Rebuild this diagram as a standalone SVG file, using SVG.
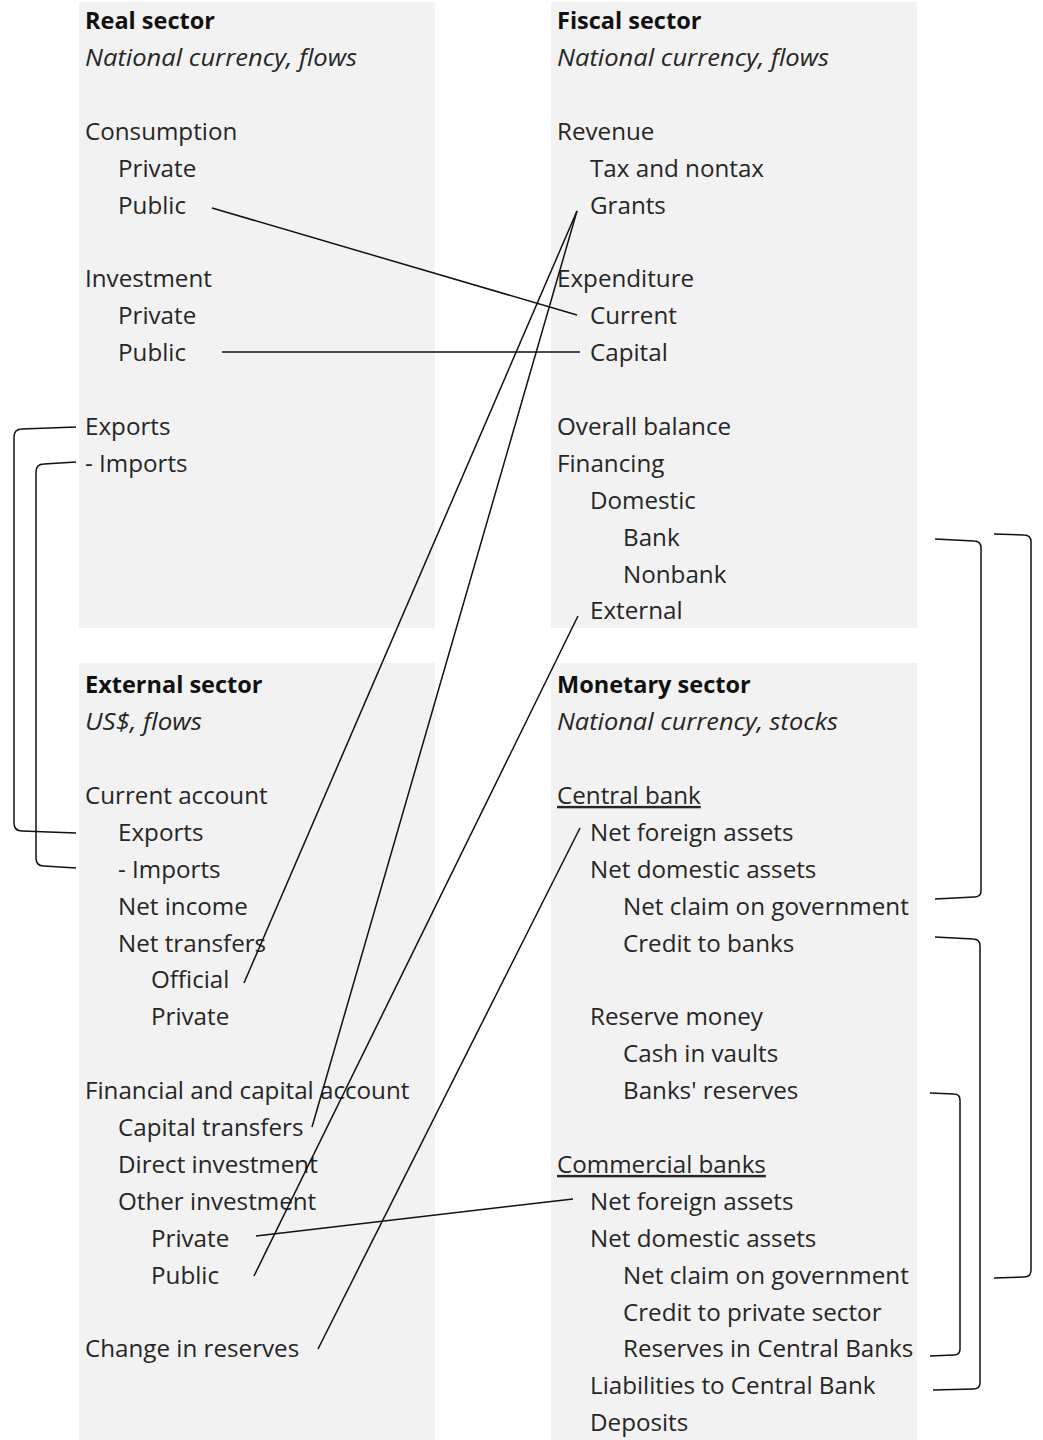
<svg xmlns="http://www.w3.org/2000/svg" width="1043" height="1440" viewBox="0 0 1043 1440">
<style>
.panel{fill:#f2f2f2}
text{font-family:"Open Sans","Noto Sans",sans-serif;font-size:24.2px;fill:#262626}
.b{font-weight:bold;fill:#111;font-size:23.5px}
.i{font-style:italic}
.u{text-decoration:underline}
.c{fill:none;stroke:#111;stroke-width:1.5}
</style>
<rect width="1043" height="1440" fill="#ffffff"/>
<g id="real-sector">
<rect class="panel" x="79" y="2" width="356" height="626"/>
<text class="b" x="85" y="29">Real sector</text>
<text class="i" x="85" y="65.9" textLength="272" lengthAdjust="spacingAndGlyphs">National currency, flows</text>
<text x="85" y="139.7">Consumption</text>
<text x="118" y="176.6">Private</text>
<text x="118" y="213.5">Public</text>
<text x="85" y="287.3">Investment</text>
<text x="118" y="324.2">Private</text>
<text x="118" y="361.1">Public</text>
<text x="85" y="434.9">Exports</text>
<text x="85" y="471.8">- Imports</text>
</g>
<g id="fiscal-sector">
<rect class="panel" x="551" y="2" width="366" height="626"/>
<text class="b" x="557" y="29">Fiscal sector</text>
<text class="i" x="557" y="65.9" textLength="272" lengthAdjust="spacingAndGlyphs">National currency, flows</text>
<text x="557" y="139.7">Revenue</text>
<text x="590" y="176.6">Tax and nontax</text>
<text x="590" y="213.5">Grants</text>
<text x="557" y="287.3">Expenditure</text>
<text x="590" y="324.2">Current</text>
<text x="590" y="361.1">Capital</text>
<text x="557" y="434.9">Overall balance</text>
<text x="557" y="471.8">Financing</text>
<text x="590" y="508.7">Domestic</text>
<text x="623" y="545.6">Bank</text>
<text x="623" y="582.5">Nonbank</text>
<text x="590" y="619.4">External</text>
</g>
<g id="external-sector">
<rect class="panel" x="79" y="663" width="356" height="777"/>
<text class="b" x="85" y="693.2">External sector</text>
<text class="i" x="85" y="730.1" textLength="117" lengthAdjust="spacingAndGlyphs">US$, flows</text>
<text x="85" y="803.9">Current account</text>
<text x="118" y="840.8">Exports</text>
<text x="118" y="877.7">- Imports</text>
<text x="118" y="914.6">Net income</text>
<text x="118" y="951.5">Net transfers</text>
<text x="151" y="988.4">Official</text>
<text x="151" y="1025.3">Private</text>
<text x="85" y="1099.1">Financial and capital account</text>
<text x="118" y="1136">Capital transfers</text>
<text x="118" y="1172.9">Direct investment</text>
<text x="118" y="1209.8">Other investment</text>
<text x="151" y="1246.7">Private</text>
<text x="151" y="1283.6">Public</text>
<text x="85" y="1357.4">Change in reserves</text>
</g>
<g id="monetary-sector">
<rect class="panel" x="551" y="663" width="366" height="777"/>
<text class="b" x="557" y="693.2">Monetary sector</text>
<text class="i" x="557" y="730.1" textLength="281" lengthAdjust="spacingAndGlyphs">National currency, stocks</text>
<text class="u" x="557" y="803.9">Central bank</text>
<text x="590" y="840.8">Net foreign assets</text>
<text x="590" y="877.7">Net domestic assets</text>
<text x="623" y="914.6">Net claim on government</text>
<text x="623" y="951.5">Credit to banks</text>
<text x="590" y="1025.3">Reserve money</text>
<text x="623" y="1062.2">Cash in vaults</text>
<text x="623" y="1099.1">Banks' reserves</text>
<text class="u" x="557" y="1172.9">Commercial banks</text>
<text x="590" y="1209.8">Net foreign assets</text>
<text x="590" y="1246.7">Net domestic assets</text>
<text x="623" y="1283.6">Net claim on government</text>
<text x="623" y="1320.5">Credit to private sector</text>
<text x="623" y="1357.4">Reserves in Central Banks</text>
<text x="590" y="1394.3">Liabilities to Central Bank</text>
<text x="590" y="1431.2">Deposits</text>
</g>
<g id="connectors">
<line class="c" x1="212" y1="208" x2="577" y2="315"/>
<line class="c" x1="222" y1="352" x2="580" y2="352"/>
<line class="c" x1="577" y1="211" x2="244" y2="983"/>
<line class="c" x1="577" y1="211" x2="312" y2="1127"/>
<line class="c" x1="578" y1="616" x2="254" y2="1276"/>
<line class="c" x1="580" y1="828" x2="318" y2="1349"/>
<line class="c" x1="573" y1="1199" x2="256" y2="1236"/>
<path class="c" d="M76,427 L22,429 Q14,429 14,437 L14,823 Q14,831 22,831 L76,833"/>
<path class="c" d="M76,462 L44,464 Q36,464 36,472 L36,858 Q36,866 44,866 L76,868"/>
<path class="c" d="M935,539 L974,541 Q981,541 981,548 L981,891 Q981,897 974,897 L935,899"/>
<path class="c" d="M994,534 L1024,535 Q1031,535 1031,542 L1031,1270 Q1031,1277 1024,1277 L994,1278"/>
<path class="c" d="M935,937 L973,939 Q980,939 980,946 L980,1383 Q980,1389 973,1389 L933,1390"/>
<path class="c" d="M930,1093 L954,1094 Q960,1094 960,1100 L960,1349 Q960,1355 954,1355 L930,1356"/>
</g>
</svg>
